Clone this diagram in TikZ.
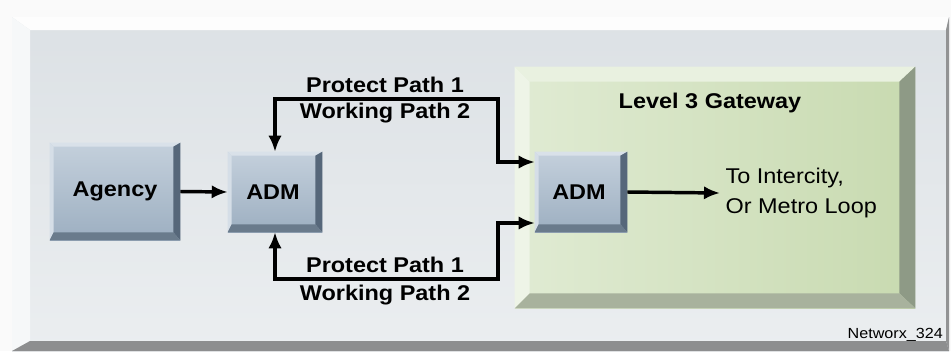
\documentclass[tikz,border=0pt]{standalone}
\usepackage{fontspec}
\setmainfont[FakeStretch=1.1]{Liberation Sans}
\usetikzlibrary{arrows.meta,calc}
\definecolor{paneltop}{HTML}{DCE1E5}
\definecolor{panelbot}{HTML}{EBEEF0}
\definecolor{admtop}{HTML}{C4D0DC}
\definecolor{admbot}{HTML}{9DAFC1}
\definecolor{admlight}{HTML}{D9E1E9}
\definecolor{admdark}{HTML}{56677A}
\definecolor{admmid}{HTML}{6A7B8C}
\definecolor{gwleft}{HTML}{E0EBD3}
\definecolor{gwright}{HTML}{C8DAB0}
\definecolor{gwdark}{HTML}{8E9A86}
\definecolor{gwmid}{HTML}{A8B29D}
\tikzset{
  admbox/.style={draw=none,top color=admtop,bottom color=admbot,inner sep=0pt,
    font=\bfseries\fontsize{16}{19}\selectfont},
  gwbox/.style={draw=none,left color=gwleft,right color=gwright,inner sep=0pt},
  pathline/.style={line width=2.6pt,draw=black},
  pathlbl/.style={inner sep=0pt,text=black,font=\bfseries\fontsize{16}{19}\selectfont},
  >={Latex[length=12pt,width=10pt]}
}

\begin{document}
\begin{tikzpicture}[x=0.75pt,y=-0.75pt]
  \useasboundingbox (0,0) rectangle (951,351);
  \fill[white!96!gray] (0,0) rectangle (951,351);
  % outer panel
  \shade[top color=paneltop,bottom color=panelbot] (12,17) rectangle (949,351);
  \fill[white!94!paneltop] (12,17)--(949,17)--(946,30)--(30,30)--cycle;
  \fill[white!75!paneltop] (12,17)--(30,30)--(30,341)--(12,351)--cycle;
  \fill[gray!80!paneltop] (949,17)--(949,351)--(946,341)--(946,30)--cycle;
  \fill[gray!85!paneltop] (12,351)--(30,341)--(946,341)--(949,351)--cycle;

  % gateway area
  \node[gwbox,minimum width=300pt,minimum height=180.75pt] (gateway) at (715,187.5) {};
  \fill[gwleft!70!white] (gateway.north west)--(gateway.north east)
    --([shift={(-16,15)}]gateway.north east)--([shift={(15,15)}]gateway.north west)--cycle;
  \fill[gwleft!55!white] (gateway.north west)--([shift={(15,15)}]gateway.north west)
    --([shift={(15,-15)}]gateway.south west)--(gateway.south west)--cycle;
  \fill[gwdark] (gateway.north east)--(gateway.south east)
    --([shift={(-16,-15)}]gateway.south east)--([shift={(-16,15)}]gateway.north east)--cycle;
  \fill[gwmid] (gateway.south west)--([shift={(15,-15)}]gateway.south west)
    --([shift={(-16,-15)}]gateway.south east)--(gateway.south east)--cycle;
  \node[pathlbl] (gwname) at (710,103) {Level 3 Gateway};

  % boxes
  \node[admbox,minimum width=97.5pt,minimum height=72.75pt] (agency) at (115,191.5) {};
  \node[admbox,minimum width=70.5pt,minimum height=60pt] (adma) at (275,192) {};
  \node[admbox,minimum width=69pt,minimum height=60pt] (admb) at (581,192) {};
  \foreach \n in {agency,adma,admb}{
    \fill[admlight] (\n.north west)--(\n.north east)
      --([shift={(-7,4)}]\n.north east)--([shift={(4,4)}]\n.north west)--cycle;
    \fill[admlight!80!admtop] (\n.north west)--([shift={(4,4)}]\n.north west)
      --([shift={(4,-8)}]\n.south west)--(\n.south west)--cycle;
    \fill[admdark] (\n.north east)--(\n.south east)
      --([shift={(-7,-8)}]\n.south east)--([shift={(-7,4)}]\n.north east)--cycle;
    \fill[admmid] (\n.south west)--([shift={(4,-8)}]\n.south west)
      --([shift={(-7,-8)}]\n.south east)--(\n.south east)--cycle;
  }
  \node[pathlbl] at ([shift={(0,0)}]agency.center) {Agency};
  \node[pathlbl] at ([shift={(-2,0)}]adma.center) {ADM};
  \node[pathlbl] at ([shift={(-2,0)}]admb.center) {ADM};

  % paths
  \coordinate (topturn) at (498,99);
  \coordinate (botturn) at (498,279);
  \draw[pathline,->] (agency.east) -- (adma.west);
  \draw[pathline,<->] (adma.north) |- (topturn) |- ($(admb.west)+(0,-30)$);
  \draw[pathline,<->] (adma.south) |- (botturn) |- ($(admb.west)+(0,31)$);
  \node[pathlbl] (protop) at (385,85) {Protect Path 1};
  \node[pathlbl] (worktop) at (385,113) {Working Path 2};
  \node[pathlbl] (probot) at (385,265) {Protect Path 1};
  \node[pathlbl] (workbot) at (385,295) {Working Path 2};

  \node[anchor=west,align=left,inner sep=0pt,inner xsep=4pt,
    font=\fontsize{16}{22.5}\selectfont] (dest) at (720,193) {To Intercity,\\Or Metro Loop};
  \draw[pathline,->] (admb.east) -- (dest.west);

  \node[anchor=east,inner sep=0pt,font=\fontsize{11}{13}\selectfont] (tag) at (943,335) {Networx\_324};
\end{tikzpicture}
\end{document}
